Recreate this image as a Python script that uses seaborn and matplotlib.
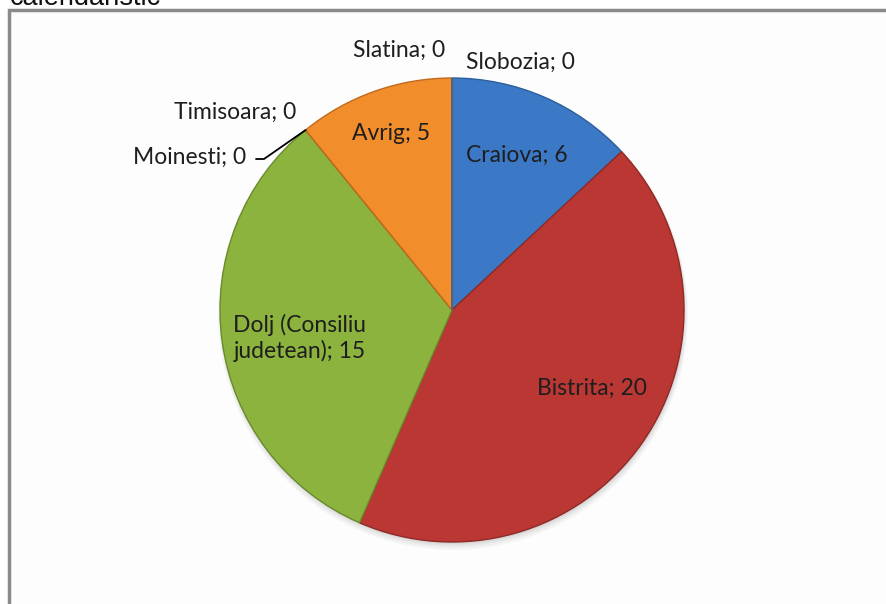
import matplotlib
matplotlib.use("Agg")
import matplotlib.pyplot as plt
import seaborn as sns
import numpy as np

# Data
categories = ["Craiova", "Bistrita", "Dolj (Consiliu\njudetean)", "Moinesti",
              "Timisoara", "Avrig", "Slatina", "Slobozia"]
values = [6, 20, 15, 0, 0, 5, 0, 0]
colors = ["#3B79C7", "#BA3733", "#8CB33D", "#8CB33D", "#F28D2B", "#F28D2B", "#F28D2B", "#3B79C7"]
edge_colors = ["#2D5E9C", "#8E2A27", "#6A8A2C", "#6A8A2C", "#C06A1C", "#C06A1C", "#C06A1C", "#2D5E9C"]

sns.set_theme(style="white")
plt.rcParams["font.family"] = ["Lato", "DejaVu Sans"]

W, H = 886, 604
fig = plt.figure(figsize=(W / 100, H / 100), dpi=100)
fig.patch.set_facecolor("white")
ax = fig.add_axes([0, 0, 1, 1])

def Y(y):
    return H - y

cx, cy, r = 452, Y(310), 232

wedges, _ = ax.pie(values, colors=colors, startangle=90, counterclock=False,
                   center=(cx, cy), radius=r, frame=True,
                   wedgeprops=dict(linewidth=1.0))
for w, ec in zip(wedges, edge_colors):
    w.set_edgecolor(ec)
    w.set_zorder(3)
ax.set_xlim(0, W)
ax.set_ylim(0, H)
ax.set_aspect("equal")
ax.axis("off")

# chart frame
ax.add_patch(plt.Rectangle((9, -10), W + 20, Y(10) + 10, facecolor="#FDFDFD",
                           edgecolor="#8A8A8A", linewidth=2.5, zorder=0))
# cut off title on top (cut in the reference as well)
ax.text(10, Y(5), "calendaristic", fontsize=19.5, family="Liberation Sans",
        color="#111111", ha="left", va="baseline")

# soft shadow
for i, a in enumerate([0.03, 0.03, 0.04, 0.05]):
    ax.add_patch(plt.Circle((cx + 1, cy - 5 + i), r + 3 - i, color="black", alpha=a, zorder=1, lw=0))

fs = 16.5
tc = "#1E1E1E"
labels = [f"{c}; {v}" for c, v in zip(categories, values)]
pos = {
    "Craiova": (517, 155),
    "Bistrita": (592, 388),
    "Dolj (Consiliu\njudetean)": (300, 338),
    "Moinesti": (190, 157),
    "Timisoara": (235, 112),
    "Avrig": (391, 133),
    "Slatina": (399, 50),
    "Slobozia": (520, 62),
}
for c, lab in zip(categories, labels):
    x, y = pos[c]
    ax.text(x, Y(y), lab, fontsize=fs, color=tc, ha="center", va="center",
            linespacing=1.25, zorder=5)

# leader line for Moinesti / Timisoara
ang = np.deg2rad(90 + 360 * values[5] / sum(values))
px, py = cx + r * np.cos(ang), cy + r * np.sin(ang)
ax.plot([256, 264, px], [Y(159), Y(159), py], color="black", lw=1.3, zorder=5)

fig.savefig("out.png", dpi=100, facecolor="white")
